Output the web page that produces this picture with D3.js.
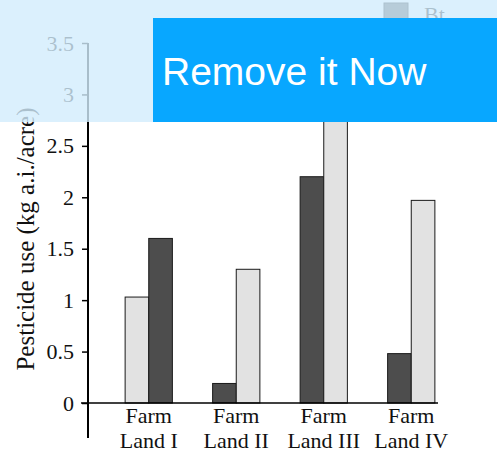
<!DOCTYPE html>
<html>
<head>
<meta charset="utf-8">
<script src="https://cdn.jsdelivr.net/npm/d3@7"></script>
<style>
  html, body { margin: 0; padding: 0; background: #fff; }
  svg { display: block; }
  text { font-family: "Liberation Serif", "Times New Roman", serif; }
</style>
</head>
<body>
<svg></svg>
<script>
const width = 497, height = 453;
const svg = d3.select("svg").attr("width", width).attr("height", height);

// Data
const categories = ["Farm Land I", "Farm Land II", "Farm Land III", "Farm Land IV"];
const btValues = [1.6, 0.19, 2.2, 0.48];       // dark bars
const nonBtValues = [1.03, 1.3, 3.2, 1.97];    // light bars (III top hidden)
const leftSeries = ["Non-Bt", "Bt", "Bt", "Bt"]; // which bar sits on the left in each group
const yTicks = [0, 0.5, 1, 1.5, 2, 2.5, 3, 3.5];
const legendLabels = ["Bt", "Non-Bt"];

const colors = { "Bt": "#4d4d4d", "Non-Bt": "#e2e2e2" };

// Scales
const y = d3.scaleLinear().domain([0, 3.5]).range([403, 43]);
const x0 = d3.scaleBand().domain(categories).range([105, 455])
    .paddingInner(0.46).paddingOuter(0.23);
const x1 = d3.scaleBand().domain([0, 1]).range([0, x0.bandwidth()]);

// Bars
const bars = [];
categories.forEach((c, i) => {
    const order = leftSeries[i] === "Bt" ? ["Bt", "Non-Bt"] : ["Non-Bt", "Bt"];
    order.forEach((s, j) => {
        bars.push({ cat: c, series: s, slot: j, value: s === "Bt" ? btValues[i] : nonBtValues[i] });
    });
});

svg.append("g").selectAll("rect")
    .data(bars)
    .enter().append("rect")
    .attr("x", d => x0(d.cat) + x1(d.slot))
    .attr("y", d => y(d.value))
    .attr("width", x1.bandwidth())
    .attr("height", d => y(0) - y(d.value))
    .attr("fill", d => colors[d.series])
    .attr("stroke", "#1a1a1a")
    .attr("stroke-width", 1);

// Y axis
const yAxis = svg.append("g")
    .attr("transform", "translate(88,0)")
    .call(d3.axisLeft(y).tickValues(yTicks).tickSize(6).tickSizeOuter(0).tickPadding(8)
        .tickFormat(d3.format("")));
yAxis.select(".domain").remove();
yAxis.selectAll("line").attr("stroke", "#000").attr("stroke-width", 1.5);
yAxis.selectAll("text")
    .attr("fill", "#111")
    .style("font-family", "'Liberation Serif', serif")
    .style("font-size", "22px");
yAxis.append("line")
    .attr("x1", 0).attr("x2", 0)
    .attr("y1", y(3.5)).attr("y2", 438)
    .attr("stroke", "#000").attr("stroke-width", 2);

// X axis line
svg.append("line")
    .attr("x1", 81).attr("x2", 438)
    .attr("y1", y(0)).attr("y2", y(0))
    .attr("stroke", "#000").attr("stroke-width", 1.5);

// Category labels (two lines, each its own text)
const labelGroup = svg.append("g");
labelGroup.selectAll("text.top")
    .data(categories)
    .enter().append("text")
    .attr("class", "top")
    .attr("x", d => x0(d) + x0.bandwidth() / 2)
    .attr("y", 423)
    .attr("text-anchor", "middle")
    .attr("fill", "#111")
    .style("font-size", "22px")
    .text(d => d.split(" ")[0]);
labelGroup.selectAll("text.bottom")
    .data(categories)
    .enter().append("text")
    .attr("class", "bottom")
    .attr("x", d => x0(d) + x0.bandwidth() / 2)
    .attr("y", 448)
    .attr("text-anchor", "middle")
    .attr("fill", "#111")
    .style("font-size", "22px")
    .text(d => d.split(" ").slice(1).join(" "));

// Y axis title
svg.append("text")
    .attr("transform", "translate(34,239) rotate(-90)")
    .attr("text-anchor", "middle")
    .attr("fill", "#111")
    .style("font-size", "25px")
    .text("Pesticide use (kg a.i./acre)");

// Legend (mostly hidden under the banner)
const legend = svg.append("g").selectAll("g")
    .data(legendLabels)
    .enter().append("g")
    .attr("transform", (d, i) => `translate(384,${3 + i * 34})`);
legend.append("rect")
    .attr("width", 24).attr("height", 24)
    .attr("fill", d => colors[d])
    .attr("stroke", "#1a1a1a");
legend.append("text")
    .attr("x", 40).attr("y", 19)
    .attr("fill", "#111")
    .style("font-size", "22px")
    .text(d => d);

// Translucent overlay band and banner on top
svg.append("rect")
    .attr("x", 0).attr("y", 0)
    .attr("width", width).attr("height", 122)
    .attr("fill", "rgb(210,236,252)")
    .attr("fill-opacity", 0.8);

svg.append("rect")
    .attr("x", 153).attr("y", 18)
    .attr("width", width - 153).attr("height", 104)
    .attr("fill", "#08a7ff");

svg.append("text")
    .attr("x", 162).attr("y", 85)
    .attr("fill", "#fff")
    .style("font-family", "'Liberation Sans', Arial, sans-serif")
    .style("font-size", "39px")
    .text("Remove it Now");
</script>
</body>
</html>
